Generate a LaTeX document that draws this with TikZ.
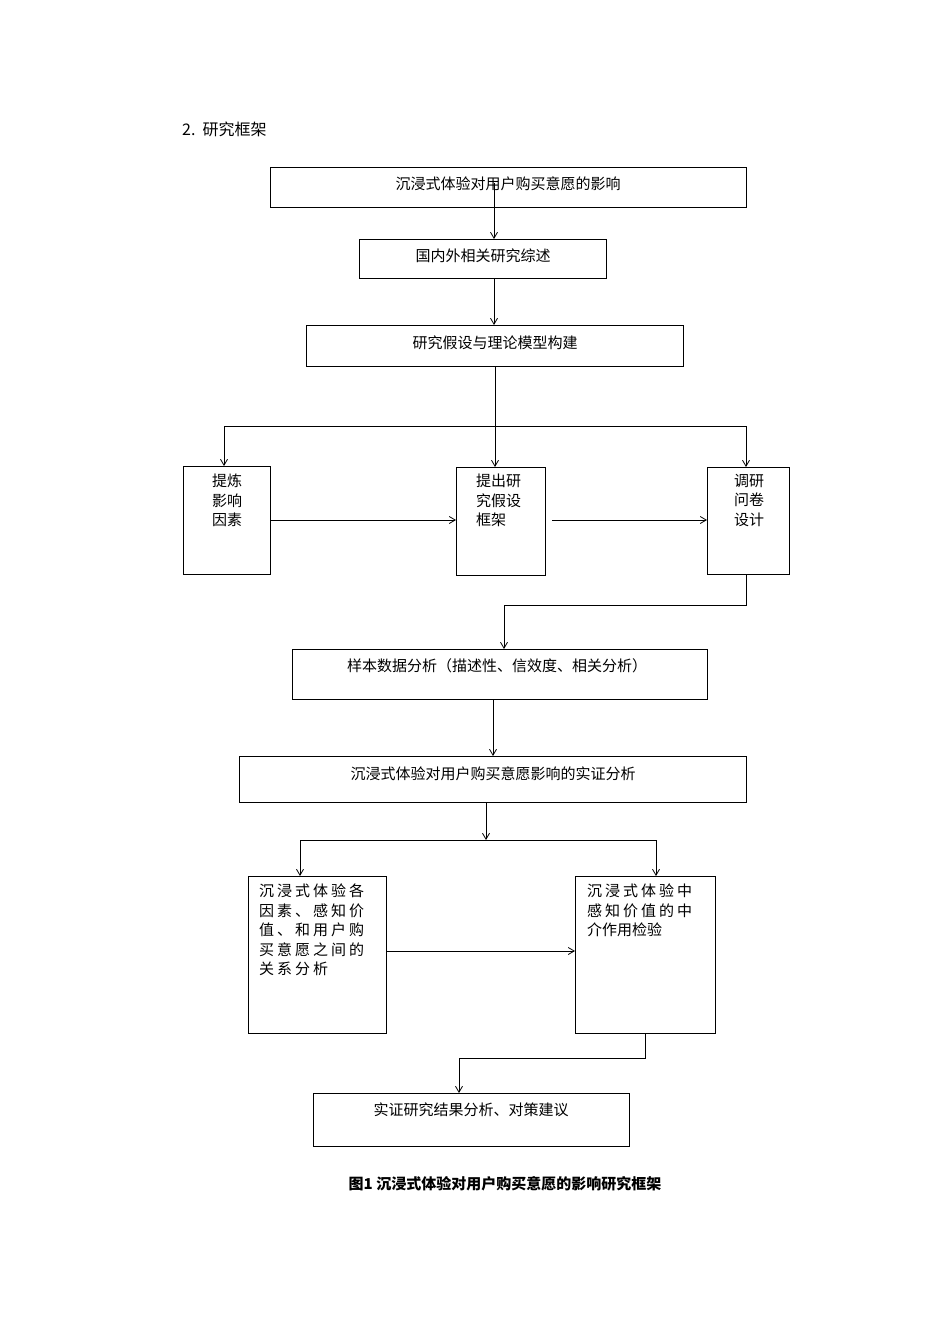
\documentclass[tikz,border=0pt]{standalone}
\usepackage{fontspec}
\setmainfont{Liberation Serif}
\newfontfamily\cjk{Noto Sans CJK SC}
\newfontfamily\cjksp[LetterSpace=20]{Noto Sans CJK SC}
\usetikzlibrary{arrows.meta}
\begin{document}
\begin{tikzpicture}[x=1pt,y=-1pt,
  box/.style={draw,line width=0.8pt},
  t/.style={font=\cjk\fontsize{15}{19}\selectfont,inner sep=0pt,anchor=base},
  tl/.style={font=\cjk\fontsize{15}{19.5}\selectfont,inner sep=0pt,anchor=north west,align=left},
  ar/.style={-{Straight Barb[length=6pt,width=7pt]},line width=0.8pt},
  ln/.style={line width=0.8pt}]
\useasboundingbox (0,0) rectangle (950,1344);
\node[anchor=base west,inner sep=0pt,font=\cjk\fontsize{16}{19}\selectfont] (title) at (182,135) {2.\ \ 研究框架};
% boxes
\draw[box] (270,167) rectangle (746,207); \coordinate (b1) at (494,207);
\node[t] (t1) at (508,189) {沉浸式体验对用户购买意愿的影响};
\draw[box] (359,239) rectangle (606,278);
\node[t] (t2) at (483,261) {国内外相关研究综述};
\draw[box] (306,325) rectangle (683,366);
\node[t] (t3) at (495,348) {研究假设与理论模型构建};
\draw[ar] (494,183) -- (494,239);
\draw[ar] (494,278) -- (494,325);
\draw[ln] (495,366) -- (495,426);
\draw[ln] (224,426) -- (746,426);
\draw[ar] (224,426) -- (224,466);
\draw[ar] (495,426) -- (495,467);
\draw[ar] (746,426) -- (746,467);
\draw[box] (183,466) rectangle (270,574);
\node[tl] (ta) at (212,474) {提炼\\影响\\因素};
\draw[box] (456,467) rectangle (545,575);
\node[tl] (tb) at (476,474) {提出研\\究假设\\框架};
\draw[box] (707,467) rectangle (789,574);
\node[tl] (tc) at (734,474) {调研\\问卷\\设计};
\draw[ar] (270,520) -- (456,520);
\draw[ar] (552,520) -- (707,520);
\draw[ln] (746,574) -- (746,605) -- (504,605);
\draw[ar] (504,605) -- (504,649);
\draw[box] (292,649) rectangle (707,699);
\node[t] (td) at (497,671) {样本数据分析（描述性、信效度、相关分析）};
\draw[ar] (493,699) -- (493,756);
\draw[box] (239,756) rectangle (746,802);
\node[t] (te) at (493,779) {沉浸式体验对用户购买意愿影响的实证分析};
\draw[ar] (486,802) -- (486,840);
\draw[ln] (300,840) -- (656,840);
\draw[ar] (300,840) -- (300,876);
\draw[ar] (656,840) -- (656,876);
\draw[box] (248,876) rectangle (386,1033);
\node[tl,font=\cjksp\fontsize{15}{19.5}\selectfont] (tf) at (259,884) {沉浸式体验各\\因素、感知价\\值、和用户购\\买意愿之间的\\关系分析};
\draw[box] (575,876) rectangle (715,1033);
\node[tl,font=\cjksp\fontsize{15}{19.5}\selectfont] (tg) at (587,884) {沉浸式体验中\\感知价值的中\\{\cjk 介作用检验}};
\draw[ar] (386,951) -- (575,951);
\draw[ln] (645,1033) -- (645,1058) -- (459,1058);
\draw[ar] (459,1058) -- (459,1093);
\draw[box] (313,1093) rectangle (629,1146);
\node[t] (th) at (471,1115) {实证研究结果分析、对策建议};
\node[t,font=\cjk\bfseries\fontsize{15}{19}\selectfont] (cap) at (505,1189) {图1 沉浸式体验对用户购买意愿的影响研究框架};
\end{tikzpicture}
\end{document}
